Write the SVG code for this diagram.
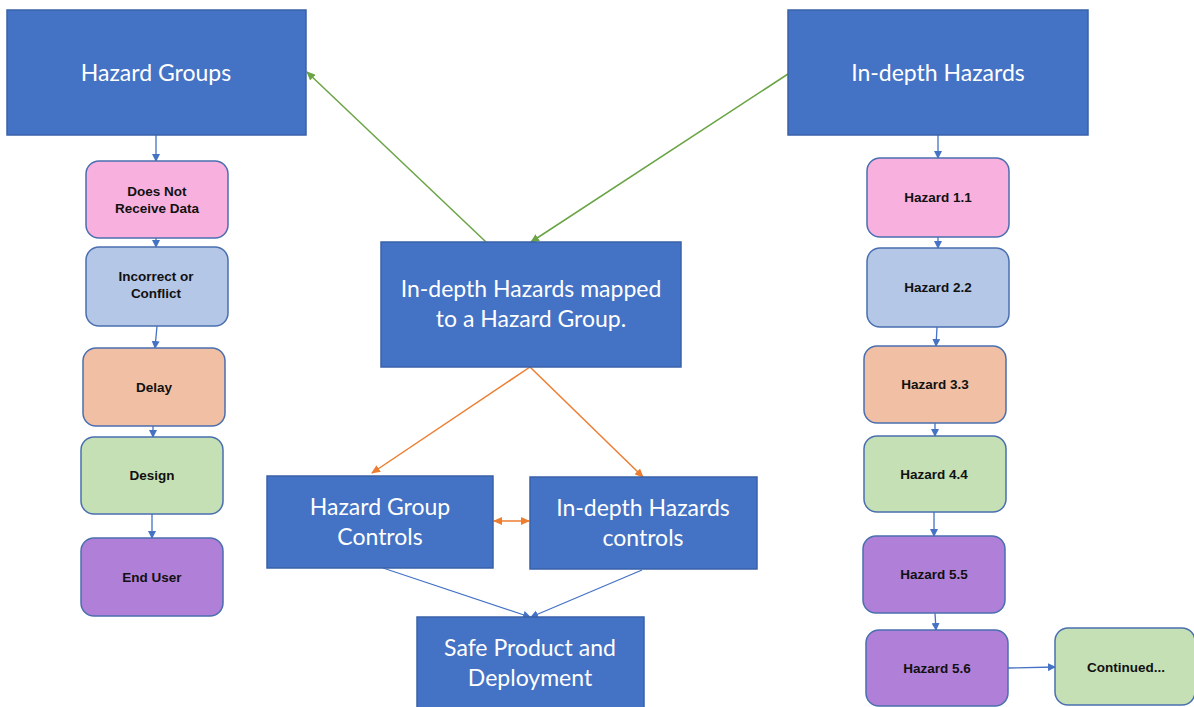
<svg xmlns="http://www.w3.org/2000/svg" width="1194" height="707" viewBox="0 0 1194 707">
  <style>
    .big { fill: #4472C4; stroke: #3A62A8; stroke-width: 1.5; }
    .big-t { font-family: Lato, "Liberation Sans", sans-serif; font-size: 23px; fill: #FFFFFF; text-anchor: middle; }
    .item { stroke: #4A6FB0; stroke-width: 1.5; }
    .item-t { font-family: "Liberation Sans", Arial, sans-serif; font-weight: bold; font-size: 13.5px; fill: #111111; text-anchor: middle; }
    .pink { fill: #F8B1DF; }
    .lblue { fill: #B4C7E7; }
    .peach { fill: #F1BFA3; }
    .green { fill: #C5E0B4; }
    .purple { fill: #B07FD8; }
    .c-blue { stroke: #4472C4; stroke-width: 1.3; fill: none; }
    .c-green { stroke: #6AA444; stroke-width: 1.5; fill: none; }
    .c-orange { stroke: #ED7D31; stroke-width: 1.5; fill: none; }
  </style>
  <defs>
    <marker id="ah-blue" markerWidth="8" markerHeight="8" refX="7" refY="4" orient="auto" markerUnits="userSpaceOnUse">
      <path d="M0,0 L8,4 L0,8 Z" fill="#4472C4"/>
    </marker>
    <marker id="ah-green" markerWidth="9" markerHeight="8" refX="8" refY="4" orient="auto" markerUnits="userSpaceOnUse">
      <path d="M0,0 L9,4 L0,8 Z" fill="#6AA444"/>
    </marker>
    <marker id="ah-orange" markerWidth="9" markerHeight="8" refX="8" refY="4" orient="auto" markerUnits="userSpaceOnUse">
      <path d="M0,0 L9,4 L0,8 Z" fill="#ED7D31"/>
    </marker>
    <marker id="ah-orange-start" markerWidth="9" markerHeight="8" refX="1" refY="4" orient="auto" markerUnits="userSpaceOnUse">
      <path d="M9,0 L0,4 L9,8 Z" fill="#ED7D31"/>
    </marker>
  </defs>

  <rect width="1194" height="707" fill="#FFFFFF"/>

  <!-- connectors -->
  <g id="connectors">
    <!-- left column chain -->
    <line class="c-blue" x1="156" y1="135" x2="156" y2="161" marker-end="url(#ah-blue)"/>
    <line class="c-blue" x1="156" y1="238" x2="156" y2="247" marker-end="url(#ah-blue)"/>
    <line class="c-blue" x1="157" y1="326" x2="155" y2="348" marker-end="url(#ah-blue)"/>
    <line class="c-blue" x1="153" y1="426" x2="153" y2="437" marker-end="url(#ah-blue)"/>
    <line class="c-blue" x1="152" y1="514" x2="152" y2="538" marker-end="url(#ah-blue)"/>
    <!-- right column chain -->
    <line class="c-blue" x1="938" y1="135" x2="938" y2="158" marker-end="url(#ah-blue)"/>
    <line class="c-blue" x1="938" y1="237" x2="938" y2="248" marker-end="url(#ah-blue)"/>
    <line class="c-blue" x1="937" y1="327" x2="936" y2="346" marker-end="url(#ah-blue)"/>
    <line class="c-blue" x1="935" y1="423" x2="935" y2="436" marker-end="url(#ah-blue)"/>
    <line class="c-blue" x1="934" y1="512" x2="934" y2="536" marker-end="url(#ah-blue)"/>
    <line class="c-blue" x1="935" y1="613" x2="936" y2="630" marker-end="url(#ah-blue)"/>
    <line class="c-blue" x1="1008" y1="668" x2="1055" y2="667" marker-end="url(#ah-blue)"/>
    <!-- mapping box links to the two top headers -->
    <line class="c-green" x1="486" y1="242" x2="307" y2="72" marker-end="url(#ah-green)"/>
    <line class="c-green" x1="788" y1="74" x2="531" y2="242" marker-end="url(#ah-green)"/>
    <!-- mapping box to controls -->
    <line class="c-orange" x1="530" y1="367" x2="372" y2="473" marker-end="url(#ah-orange)"/>
    <line class="c-orange" x1="530" y1="367" x2="643" y2="477" marker-end="url(#ah-orange)"/>
    <line class="c-orange" x1="494" y1="521" x2="529" y2="521" marker-start="url(#ah-orange-start)" marker-end="url(#ah-orange)"/>
    <!-- controls to safe product -->
    <line class="c-blue" x1="383" y1="568" x2="530" y2="617" marker-end="url(#ah-blue)"/>
    <line class="c-blue" x1="642" y1="570" x2="531" y2="617" marker-end="url(#ah-blue)"/>
  </g>

  <!-- header nodes -->
  <g id="hazard-groups">
    <rect class="big" x="7" y="10" width="299" height="125"/>
    <text class="big-t" x="156" y="81">Hazard Groups</text>
  </g>
  <g id="in-depth-hazards">
    <rect class="big" x="788" y="10" width="300" height="125"/>
    <text class="big-t" x="938" y="81">In-depth Hazards</text>
  </g>

  <!-- centre flow -->
  <g id="mapped">
    <rect class="big" x="381" y="242" width="300" height="125"/>
    <text class="big-t" x="531" y="297">In-depth Hazards mapped</text>
    <text class="big-t" x="531" y="327">to a Hazard Group.</text>
  </g>
  <g id="group-controls">
    <rect class="big" x="267" y="476" width="226" height="92"/>
    <text class="big-t" x="380" y="515">Hazard Group</text>
    <text class="big-t" x="380" y="545">Controls</text>
  </g>
  <g id="in-depth-controls">
    <rect class="big" x="530" y="477" width="227" height="92"/>
    <text class="big-t" x="643" y="516">In-depth Hazards</text>
    <text class="big-t" x="643" y="546">controls</text>
  </g>
  <g id="safe-product">
    <rect class="big" x="417" y="617" width="227" height="100"/>
    <text class="big-t" x="530" y="656">Safe Product and</text>
    <text class="big-t" x="530" y="686">Deployment</text>
  </g>

  <!-- hazard groups column -->
  <g id="does-not-receive">
    <rect class="item pink" x="86" y="161" width="142" height="77" rx="13"/>
    <text class="item-t" x="157" y="196">Does Not</text>
    <text class="item-t" x="157" y="213">Receive Data</text>
  </g>
  <g id="incorrect">
    <rect class="item lblue" x="86" y="247" width="142" height="79" rx="13"/>
    <text class="item-t" x="156" y="281">Incorrect or</text>
    <text class="item-t" x="156" y="298">Conflict</text>
  </g>
  <g id="delay">
    <rect class="item peach" x="83" y="348" width="142" height="78" rx="13"/>
    <text class="item-t" x="154" y="392">Delay</text>
  </g>
  <g id="design">
    <rect class="item green" x="81" y="437" width="142" height="77" rx="13"/>
    <text class="item-t" x="152" y="480">Design</text>
  </g>
  <g id="end-user">
    <rect class="item purple" x="81" y="538" width="142" height="78" rx="13"/>
    <text class="item-t" x="152" y="582">End User</text>
  </g>

  <!-- in-depth hazards column -->
  <g id="hazard-1-1">
    <rect class="item pink" x="867" y="158" width="142" height="79" rx="13"/>
    <text class="item-t" x="938" y="202">Hazard 1.1</text>
  </g>
  <g id="hazard-2-2">
    <rect class="item lblue" x="867" y="248" width="142" height="79" rx="13"/>
    <text class="item-t" x="938" y="292">Hazard 2.2</text>
  </g>
  <g id="hazard-3-3">
    <rect class="item peach" x="864" y="346" width="142" height="77" rx="13"/>
    <text class="item-t" x="935" y="389">Hazard 3.3</text>
  </g>
  <g id="hazard-4-4">
    <rect class="item green" x="864" y="436" width="142" height="76" rx="13"/>
    <text class="item-t" x="934" y="479">Hazard 4.4</text>
  </g>
  <g id="hazard-5-5">
    <rect class="item purple" x="863" y="536" width="142" height="77" rx="13"/>
    <text class="item-t" x="934" y="579">Hazard 5.5</text>
  </g>
  <g id="hazard-5-6">
    <rect class="item purple" x="866" y="630" width="142" height="76" rx="13"/>
    <text class="item-t" x="937" y="673">Hazard 5.6</text>
  </g>
  <g id="continued">
    <rect class="item green" x="1055" y="628" width="140" height="77" rx="13"/>
    <text class="item-t" x="1126" y="672">Continued...</text>
  </g>
</svg>
